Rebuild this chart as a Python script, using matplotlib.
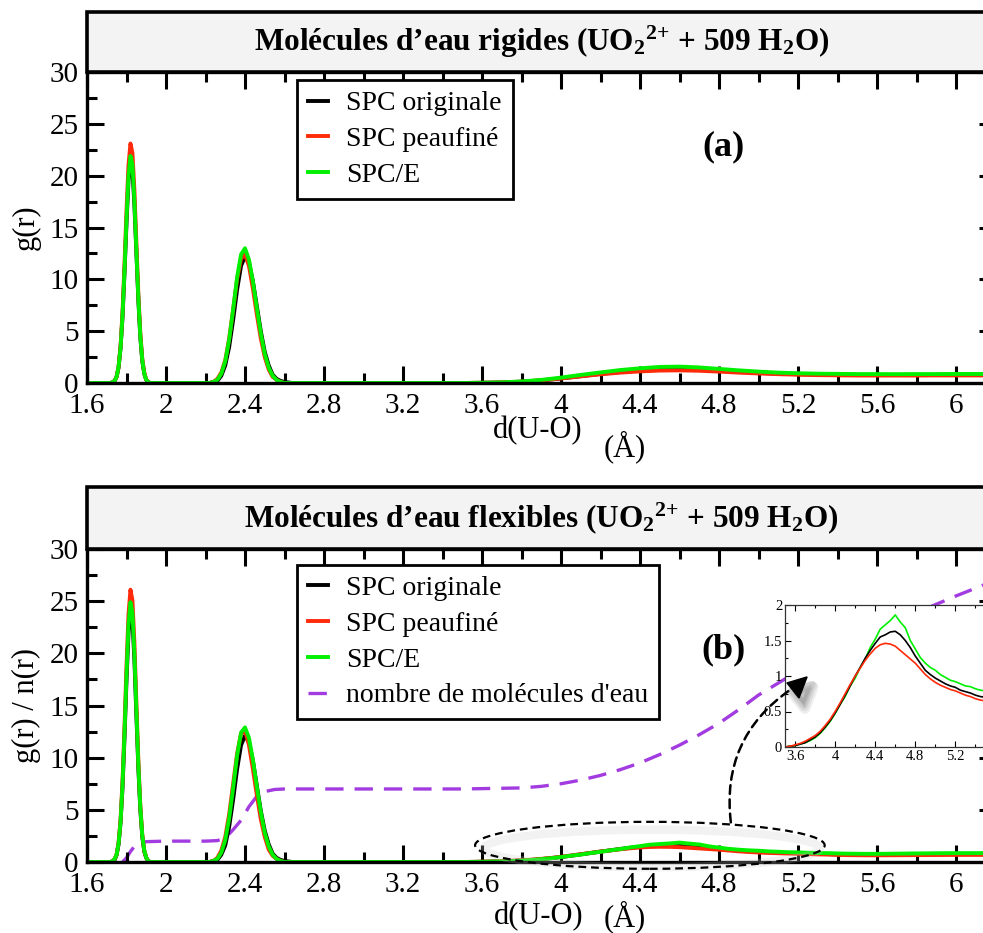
import matplotlib
matplotlib.use('Agg')
import matplotlib.pyplot as plt
from matplotlib.patches import Rectangle, Ellipse, FancyArrowPatch, Polygon
from matplotlib.ticker import MultipleLocator, FuncFormatter

# ---------------- data ----------------
# first U-O peak (uranyl oxygens)
r_peak1 = [1.72, 1.73, 1.74, 1.75, 1.76, 1.77, 1.78, 1.79, 1.80, 1.81, 1.82,
           1.83, 1.84, 1.85, 1.86, 1.87, 1.88, 1.89, 1.90, 1.91, 1.92]
rig_p1_black = [0.0, 0.1, 0.2, 0.6, 1.5, 3.4, 6.4, 10.7, 15.4, 19.5, 21.4, 20.6, 17.2, 12.6, 8.0, 4.4, 2.1, 0.9, 0.3, 0.1, 0.0]
rig_p1_red   = [0.0, 0.1, 0.2, 0.6, 1.6, 3.6, 6.9, 11.5, 16.6, 21.0, 23.1, 22.2, 18.6, 13.5, 8.6, 4.8, 2.3, 1.0, 0.3, 0.1, 0.0]
rig_p1_green = [0.0, 0.1, 0.2, 0.6, 1.6, 3.4, 6.6, 10.9, 15.8, 19.9, 21.9, 21.1, 17.6, 12.8, 8.2, 4.5, 2.2, 0.9, 0.3, 0.1, 0.0]
flx_p1_black = [0.0, 0.1, 0.2, 0.7, 1.7, 3.8, 7.2, 12.0, 17.4, 21.9, 24.1, 23.2, 19.4, 14.1, 9.0, 5.0, 2.4, 1.0, 0.4, 0.1, 0.0]
flx_p1_red   = [0.0, 0.1, 0.3, 0.7, 1.9, 4.1, 7.8, 13.0, 18.8, 23.7, 26.1, 25.1, 21.0, 15.3, 9.7, 5.4, 2.6, 1.1, 0.4, 0.1, 0.0]
flx_p1_green = [0.0, 0.1, 0.3, 0.7, 1.8, 3.9, 7.5, 12.4, 17.9, 22.7, 24.9, 23.9, 20.0, 14.6, 9.3, 5.2, 2.5, 1.1, 0.4, 0.1, 0.0]

# second peak (first hydration shell)
r_peak2 = [2.20, 2.22, 2.24, 2.26, 2.28, 2.30, 2.32, 2.34, 2.36, 2.38, 2.40,
           2.42, 2.44, 2.46, 2.48, 2.50, 2.52, 2.54, 2.56, 2.58, 2.60, 2.64, 2.70]
rig_p2_black = [0.0, 0.0, 0.1, 0.2, 0.7, 1.7, 3.5, 6.1, 9.0, 11.3, 12.2, 11.6, 9.8, 7.4, 5.0, 3.0, 1.7, 0.8, 0.4, 0.2, 0.1, 0.0, 0.0]
rig_p2_red   = [0.0, 0.0, 0.1, 0.4, 1.0, 2.2, 4.3, 7.1, 10.0, 12.0, 12.4, 11.3, 9.1, 6.6, 4.3, 2.5, 1.3, 0.6, 0.3, 0.1, 0.0, 0.0, 0.0]
rig_p2_green = [0.0, 0.0, 0.1, 0.3, 0.9, 2.1, 4.2, 7.1, 10.2, 12.4, 13.0, 11.9, 9.8, 7.2, 4.8, 2.8, 1.5, 0.7, 0.3, 0.1, 0.0, 0.0, 0.0]
flx_p2_black = [0.0, 0.0, 0.1, 0.2, 0.7, 1.6, 3.4, 6.0, 8.9, 11.2, 12.1, 11.5, 9.7, 7.3, 4.9, 3.0, 1.7, 0.8, 0.4, 0.2, 0.1, 0.0, 0.0]
flx_p2_red   = [0.0, 0.0, 0.1, 0.4, 1.1, 2.4, 4.6, 7.5, 10.4, 12.3, 12.6, 11.2, 8.9, 6.4, 4.1, 2.4, 1.2, 0.6, 0.3, 0.1, 0.0, 0.0, 0.0]
flx_p2_green = [0.0, 0.0, 0.1, 0.3, 0.9, 2.1, 4.2, 7.1, 10.2, 12.4, 12.9, 11.9, 9.8, 7.2, 4.8, 2.8, 1.5, 0.7, 0.3, 0.1, 0.0, 0.0, 0.0]

# second hydration shell, rigid water
r_far_rig = [3.5, 3.6, 3.7, 3.8, 3.9, 4.0, 4.1, 4.2, 4.3, 4.4, 4.5, 4.6, 4.7, 4.8,
             4.9, 5.0, 5.1, 5.2, 5.3, 5.4, 5.5, 5.6, 5.7, 5.8, 5.9, 6.0, 6.1, 6.2]
rig_far_black = [0.0, 0.02, 0.05, 0.12, 0.25, 0.44, 0.66, 0.88, 1.06, 1.20, 1.30, 1.33, 1.28, 1.18,
                 1.07, 0.98, 0.90, 0.85, 0.82, 0.80, 0.78, 0.78, 0.78, 0.79, 0.79, 0.80, 0.80, 0.80]
rig_far_red   = [0.0, 0.02, 0.06, 0.13, 0.26, 0.44, 0.64, 0.84, 1.00, 1.12, 1.20, 1.22, 1.18, 1.10,
                 1.00, 0.92, 0.85, 0.80, 0.76, 0.74, 0.72, 0.72, 0.72, 0.72, 0.73, 0.73, 0.73, 0.73]
rig_far_green = [0.0, 0.02, 0.06, 0.15, 0.30, 0.52, 0.78, 1.02, 1.25, 1.42, 1.55, 1.58, 1.50, 1.36,
                 1.22, 1.10, 1.00, 0.94, 0.90, 0.88, 0.86, 0.86, 0.85, 0.86, 0.86, 0.87, 0.87, 0.87]

# second hydration shell, flexible water (also shown in the inset)
r_far_flx = [3.50, 3.55, 3.60, 3.65, 3.70, 3.75, 3.80, 3.85, 3.90, 3.95, 4.00, 4.05, 4.10, 4.15,
             4.20, 4.25, 4.30, 4.35, 4.40, 4.45, 4.50, 4.55, 4.60, 4.65, 4.70, 4.75, 4.80, 4.85,
             4.90, 4.95, 5.00, 5.05, 5.10, 5.15, 5.20, 5.25, 5.30, 5.35, 5.40, 5.45, 5.50, 5.55,
             5.60, 5.70, 5.80, 5.90, 6.00, 6.10, 6.20]
flx_far_black = [0.00, 0.01, 0.02, 0.04, 0.06, 0.10, 0.14, 0.20, 0.28, 0.37, 0.48, 0.60, 0.73, 0.86,
                 1.00, 1.12, 1.25, 1.36, 1.46, 1.55, 1.58, 1.62, 1.63, 1.58, 1.50, 1.40, 1.28, 1.18,
                 1.08, 1.02, 0.97, 0.93, 0.89, 0.86, 0.84, 0.80, 0.78, 0.76, 0.73, 0.71, 0.70, 0.69,
                 0.69, 0.70, 0.72, 0.74, 0.75, 0.76, 0.76]
flx_far_red   = [0.00, 0.01, 0.03, 0.05, 0.08, 0.12, 0.16, 0.22, 0.30, 0.39, 0.50, 0.62, 0.75, 0.88,
                 1.00, 1.11, 1.22, 1.31, 1.39, 1.44, 1.46, 1.45, 1.42, 1.36, 1.30, 1.24, 1.18, 1.10,
                 1.02, 0.96, 0.91, 0.87, 0.84, 0.81, 0.79, 0.76, 0.73, 0.71, 0.68, 0.66, 0.65, 0.64,
                 0.64, 0.65, 0.66, 0.67, 0.68, 0.68, 0.68]
flx_far_green = [0.00, 0.01, 0.02, 0.04, 0.06, 0.09, 0.13, 0.19, 0.27, 0.36, 0.47, 0.60, 0.71, 0.86,
                 0.97, 1.12, 1.24, 1.40, 1.52, 1.66, 1.72, 1.78, 1.86, 1.76, 1.68, 1.50, 1.38, 1.26,
                 1.18, 1.12, 1.08, 1.02, 0.98, 0.94, 0.92, 0.89, 0.86, 0.85, 0.82, 0.80, 0.79, 0.78,
                 0.78, 0.80, 0.82, 0.84, 0.85, 0.85, 0.86]

# running coordination number n(r)
r_n = [1.78, 1.80, 1.82, 1.84, 1.86, 1.90, 2.00, 2.20, 2.26, 2.30, 2.34, 2.38, 2.42, 2.46,
       2.50, 2.55, 2.60, 2.70, 3.00, 3.50, 3.80, 3.90, 4.00, 4.10, 4.20, 4.30, 4.40, 4.50,
       4.60, 4.70, 4.80, 4.90, 5.00, 5.20, 5.40, 5.60, 5.80, 6.00, 6.20]
n_water = [0.0, 0.4, 1.0, 1.5, 1.8, 1.95, 2.0, 2.0, 2.05, 2.3, 3.1, 4.0, 5.3, 6.3,
           6.75, 6.95, 7.0, 7.0, 7.0, 7.0, 7.1, 7.25, 7.5, 7.85, 8.3, 8.85, 9.5, 10.3,
           11.2, 12.2, 13.3, 14.6, 16.0, 18.3, 20.3, 22.2, 23.9, 25.5, 27.0]

labels = ["SPC originale", "SPC peaufiné", "SPC/E"]
n_label = "nombre de molécules d'eau"
colors = ["#000000", "#ff2a0a", "#00f000"]
purple = "#a23be0"
titles = ["Molécules d’eau rigides (UO$_2{}^{2{+}}$ + 509 H$_2$O)",
          "Molécules d’eau flexibles (UO$_2{}^{2{+}}$ + 509 H$_2$O)"]


def assemble(p1, p2, far, r_far):
    r = [1.60] + r_peak1 + [2.0] + r_peak2 + [3.0] + r_far
    y = [0.0] + p1 + [0.0] + p2 + [0.0] + far
    return r, y


# ---------------- style ----------------
plt.rcParams['font.family'] = ['Liberation Serif', 'DejaVu Serif']
plt.rcParams['mathtext.fontset'] = 'custom'
plt.rcParams['mathtext.rm'] = 'Liberation Serif:bold'
plt.rcParams['mathtext.it'] = 'Liberation Serif:bold'
plt.rcParams['mathtext.bf'] = 'Liberation Serif:bold'
plt.rcParams['mathtext.default'] = 'rm'

W, H = 983, 933
fig = plt.figure(figsize=(W / 100, H / 100), dpi=100)


def px_axes(l, t, r, b):
    return fig.add_axes([l / W, 1 - b / H, (r - l) / W, (b - t) / H])


ax1 = px_axes(87, 72, 995.5, 383)
ax2 = px_axes(87, 549, 995.5, 862)


def style(ax, ylabel):
    ax.set_xlim(1.6, 6.2)
    ax.set_ylim(0, 30)
    ax.xaxis.set_major_locator(MultipleLocator(0.4))
    ax.xaxis.set_minor_locator(MultipleLocator(0.2))
    ax.yaxis.set_major_locator(MultipleLocator(5))
    ax.yaxis.set_minor_locator(MultipleLocator(2.5))
    ax.xaxis.set_major_formatter(FuncFormatter(lambda v, p: "%g" % round(v, 2)))
    ax.yaxis.set_major_formatter(FuncFormatter(lambda v, p: "%g" % v))
    ax.tick_params(which='both', direction='in', top=True, right=True, width=2.2)
    ax.tick_params(which='major', length=12, labelsize=21)
    ax.tick_params(axis='x', which='major', pad=7)
    ax.tick_params(axis='y', which='major', pad=6)
    ax.tick_params(which='minor', length=7)
    for s in ax.spines.values():
        s.set_linewidth(2.4)
    ax.set_ylabel(ylabel, fontsize=22)
    ax.yaxis.set_label_coords(-0.051, 0.5)


style(ax1, "g(r)")
style(ax2, "g(r) / n(r)")

panels = [
    (ax1, [rig_p1_black, rig_p1_red, rig_p1_green], [rig_p2_black, rig_p2_red, rig_p2_green],
     [rig_far_black, rig_far_red, rig_far_green], r_far_rig),
    (ax2, [flx_p1_black, flx_p1_red, flx_p1_green], [flx_p2_black, flx_p2_red, flx_p2_green],
     [flx_far_black, flx_far_red, flx_far_green], r_far_flx),
]
for ax, p1s, p2s, fars, rf in panels:
    for p1, p2, far, c, lab in zip(p1s, p2s, fars, colors, labels):
        r, y = assemble(p1, p2, far, rf)
        ax.plot(r, y, color=c, lw=2.8, label=lab, solid_joinstyle='round')

ax2.plot(r_n, n_water, color=purple, lw=2.4, ls=(0, (5.5, 3.3)), label=n_label, zorder=1.5)

# title boxes
for ax, title, hpx, hax in [(ax1, titles[0], 60, 311), (ax2, titles[1], 62, 313)]:
    ax.add_patch(Rectangle((0, 1), 1, hpx / hax, transform=ax.transAxes, clip_on=False,
                           fc='#f3f3f3', ec='black', lw=2.6, zorder=5))
    ax.text(0.5, 1 + 0.5 * hpx / hax, title, transform=ax.transAxes, ha='center', va='center',
            fontsize=22.5, fontweight='bold', zorder=6)

# legends
for ax, anchor in [(ax1, (0.231, 0.975)), (ax2, (0.231, 0.95))]:
    leg = ax.legend(loc='upper left', bbox_to_anchor=anchor, borderaxespad=0, fancybox=False,
                    edgecolor='black', framealpha=1, fontsize=20, handlelength=0.72,
                    handletextpad=0.65, labelspacing=0.37, borderpad=0.4)
    leg.get_frame().set_linewidth(2.0)

# panel letters
ax1.text(0.701, 0.759, "(a)", transform=ax1.transAxes, ha='center', va='center',
         fontsize=26, fontweight='bold')
ax2.text(0.701, 0.677, "(b)", transform=ax2.transAxes, ha='center', va='center',
         fontsize=26, fontweight='bold')

# x labels
ax1.text(0.496, -0.152, "d(U-O)", transform=ax1.transAxes, ha='center', va='center', fontsize=22)
ax1.text(0.592, -0.205, "(Å)", transform=ax1.transAxes, ha='center', va='center', fontsize=22)
ax2.text(0.4975, -0.174, "d(U-O)", transform=ax2.transAxes, ha='center', va='center', fontsize=22)
ax2.text(0.592, -0.176, "(Å)", transform=ax2.transAxes, ha='center', va='center', fontsize=22)

# ellipse highlighting the second shell
ax2.add_patch(Ellipse((4.46, 1.3), 1.7, 3.6, fill=False, ec='#cccccc', lw=6, alpha=0.25,
                      clip_on=False, zorder=3))
ax2.add_patch(Ellipse((4.45, 1.6), 1.77, 4.5, fill=False, ec='black', lw=1.6,
                      ls=(0, (3.5, 2.2)), clip_on=False, zorder=4))

# inset
axins = fig.add_axes([785 / W, 1 - 747 / H, 208.5 / W, 142 / H])
for c, far in zip([colors[2], colors[0], colors[1]], [flx_far_green, flx_far_black, flx_far_red]):
    axins.plot(r_far_flx, far, color=c, lw=1.2)
axins.set_xlim(3.5, 5.58)
axins.set_ylim(0, 2)
axins.xaxis.set_major_locator(MultipleLocator(0.4))
axins.xaxis.set_minor_locator(MultipleLocator(0.2))
axins.yaxis.set_major_locator(MultipleLocator(0.5))
axins.yaxis.set_minor_locator(MultipleLocator(0.25))
axins.xaxis.set_major_formatter(FuncFormatter(lambda v, p: "%g" % round(v, 2)))
axins.yaxis.set_major_formatter(FuncFormatter(lambda v, p: "%g" % v))
axins.tick_params(which='both', direction='in', top=True, right=True, width=0.8, labelsize=10.5, pad=2)
axins.tick_params(which='major', length=4)
axins.tick_params(which='minor', length=2)
for s in axins.spines.values():
    s.set_linewidth(0.9)
    s.set_color('#333333')

# dashed connector + arrow head (soft shadow)
conn = FancyArrowPatch((4.86, 3.8), (5.16, 16.5), transform=ax2.transData,
                       connectionstyle="arc3,rad=-0.3", arrowstyle='-', lw=1.8,
                       ls=(0, (3.5, 2.2)), color='black', zorder=10,
                       shrinkA=0, shrinkB=0)
fig.add_artist(conn)
for k, a in [(0.0, 0.10), (0.5, 0.12), (1.0, 0.14)]:
    dx, dy = 0.03 - 0.005 * k, -1.0 + 0.3 * k
    shadow = Polygon([(5.246 + dx, 17.74 + dy), (5.144 + dx, 17.16 + dy), (5.205 + dx, 15.72 + dy)],
                     closed=True, transform=ax2.transData, fc='#666666', ec='#666666',
                     lw=8 - 3 * k, alpha=a, zorder=10, clip_on=False, joinstyle='round')
    fig.add_artist(shadow)
head = Polygon([(5.246, 17.74), (5.144, 17.16), (5.205, 15.72)], closed=True,
               transform=ax2.transData, fc='black', ec='black', lw=1, zorder=11, clip_on=False)
fig.add_artist(head)

fig.savefig('out.png', dpi=100)
